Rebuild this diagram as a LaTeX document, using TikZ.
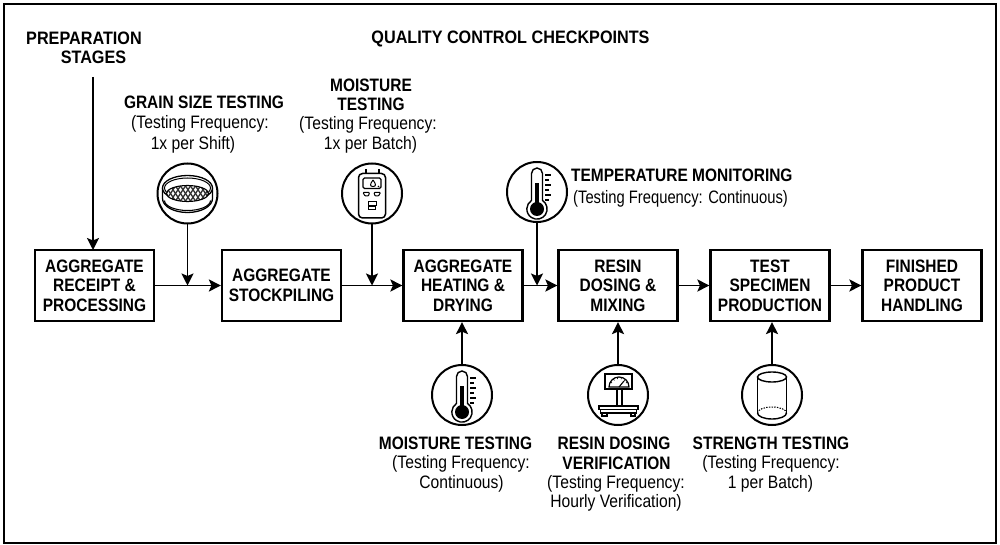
\documentclass[tikz,border=0pt]{standalone}
\usepackage{fontspec}
\setmainfont[UprightFeatures={FakeStretch=0.87},BoldFeatures={FakeStretch=0.86}]{Liberation Sans}
\newfontfamily\headfam[FakeStretch=0.9]{Liberation Sans}
\newfontfamily\longfam[FakeStretch=0.82]{Liberation Sans}
\usetikzlibrary{arrows.meta}
\newcommand{\lblfont}{\fontsize{18}{19.5}\selectfont}
\newcommand{\boldfont}{\fontsize{18}{19.5}\selectfont\bfseries}
\tikzset{
  x=1pt,y=-1pt,
  stage/.style={draw=black,line width=2.2pt,minimum width=119pt,minimum height=71pt,inner sep=0pt,align=center,font=\boldfont},
  lbl/.style={inner sep=0pt,font=\lblfont},
  blbl/.style={inner sep=0pt,font=\boldfont},
  icon/.style={draw=black,line width=2pt,circle,minimum size=60pt,inner sep=0pt,fill=white},
  flow/.style={line width=1.9pt,-{Stealth[length=12pt,width=12pt,inset=2.5pt]}},
  thermo/.pic={
    \draw[line width=1.4pt,fill=white] (-5.5,-18.5) arc[start angle=180,end angle=360,radius=5.5] -- (5.5,8.5) arc[start angle=-57,end angle=237,radius=10.14] -- cycle;
    \fill[black] (-2.2,-9) rectangle (2.2,12);
    \fill[black] (0,17) circle (7);
    \foreach \yy/\ll in {-17/6,-12/4,-7/6,-2/4,3/6,8/4}
      \draw[line width=1.2pt] (8,\yy) -- ++(\ll,0);
  },
}
\begin{document}
\begin{tikzpicture}
\useasboundingbox (0,0) rectangle (1000,545);
\fill[white] (0,0) rectangle (1000,545);
\draw[line width=1.3pt] (4,4) rectangle (996,543);

% stages
\node[stage] (s1) at (94.5,285.5) {AGGREGATE\\RECEIPT \&\\PROCESSING};
\node[stage] (s2) at (281.5,285.5) {AGGREGATE\\STOCKPILING};
\node[stage] (s3) at (463,285.5) {AGGREGATE\\HEATING \&\\DRYING};
\node[stage] (s4) at (618,285.5) {RESIN\\DOSING \&\\MIXING};
\node[stage] (s5) at (770,285.5) {TEST\\SPECIMEN\\PRODUCTION};
\node[stage] (s6) at (922,285.5) {FINISHED\\PRODUCT\\HANDLING};

\draw[flow] (s1) -- (s2);
\draw[flow] (s2) -- (s3);
\draw[flow] (s3) -- (s4);
\draw[flow] (s4) -- (s5);
\draw[flow] (s5) -- (s6);

% headings
\node[blbl,font=\fontsize{18}{19.5}\selectfont\headfam\bfseries] (prepa) at (84,38) {PREPARATION};
\node[blbl,font=\fontsize{18}{19.5}\selectfont\headfam\bfseries] (prepb) at (93.5,57.5) {STAGES};
\node[blbl,font=\fontsize{18}{19.5}\selectfont\headfam\bfseries] (qc) at (510.5,38.5) {QUALITY CONTROL CHECKPOINTS};
\coordinate (prepin) at (93,250);
\coordinate (prepout) at (93,77);
\draw[flow] (prepout) -- (prepin);

% icons
\node[icon] (sieve) at (187.5,193.5) {};
\node[icon] (meter) at (372,193.5) {};
\node[icon] (therm) at (537,192) {};
\node[icon] (therb) at (462,395) {};
\node[icon] (scale) at (618,395) {};
\node[icon] (cyl) at (772,395) {};

% connectors from icons
\coordinate (j1) at (187.5,285.5);
\coordinate (j2) at (372,285.5);
\coordinate (j3) at (537,285.5);
\draw[flow] (sieve) -- (j1);
\draw[flow] (meter) -- (j2);
\draw[flow] (therm) -- (j3);
\draw[flow] (therb) -- (s3.south -| therb);
\draw[flow] (scale) -- (s4);
\draw[flow] (cyl) -- (s5.south -| cyl);

% sieve
\begin{scope}[shift={(187.5,193.5)}]
  \draw[line width=1.3pt] (-25,-5) -- (-25,5) arc[start angle=180,end angle=360,x radius=25,y radius=-14] -- (25,-5);
  \draw[line width=1.1pt] (-23,7) arc[start angle=180,end angle=360,x radius=23,y radius=-10];
  \draw[line width=1.3pt,fill=white] (0,-5.5) ellipse [x radius=25,y radius=12.5];
  \draw[line width=1pt] (0,-5.5) ellipse [x radius=23,y radius=10];
  \begin{scope}
    \clip (0,0) ellipse [x radius=21,y radius=8];
    \fill[white] (-22,-9) rectangle (22,9);
    \foreach \k in {-42,-37,...,42}{
      \draw[line width=1.3pt,black!80] (\k-6,-9) -- (\k+6,9);
      \draw[line width=1.3pt,black!80] (\k+6,-9) -- (\k-6,9);
    }
  \end{scope}
  \draw[line width=1.1pt] (0,0) ellipse [x radius=21,y radius=8];
\end{scope}

% moisture meter
\begin{scope}[shift={(372,193.5)}]
  \draw[line width=1.1pt] (-6,-20) -- (-6,-24.5) (7,-20) -- (7,-24.5);
  \draw[line width=1.5pt,rounded corners=4pt] (-13.5,-20) rectangle (13.5,24.5);
  \draw[line width=1.2pt,rounded corners=1.5pt] (-9,-15.5) rectangle (9,-5);
  \draw[line width=1pt] (1,-13.5) .. controls (-2.5,-9) and (-2,-7) .. (1,-7) .. controls (4,-7) and (4.5,-9) .. (1,-13.5);
  \fill (6.5,-7) circle (.9);
  \draw[line width=1pt,rounded corners=.8pt] (-9,-1) -- (-2.5,-1) -- (-3.5,2.5) -- (-7,2.5) -- cycle;
  \draw[line width=1pt,rounded corners=.8pt] (8.5,-1) -- (2,-1) -- (3,2.5) -- (6.5,2.5) -- cycle;
  \draw[line width=.8pt] (-4,8) rectangle (4,11.5) (-3.5,12.5) rectangle (3.5,15.5);
\end{scope}

% thermometers
\pic at (537,192) {thermo};
\pic at (462,395) {thermo};

% scale
\begin{scope}[shift={(618,395)}]
  \draw[line width=1.3pt] (-1,-6) rectangle (4,11);
  \draw[line width=1.4pt,fill=white] (-13,-21) rectangle (14,-6);
  \draw[line width=1.2pt,fill=white] (-9,-8) arc[start angle=180,end angle=360,radius=10] -- cycle;
  \draw[line width=1.1pt] (1,-8) -- (6,-14);
  \foreach \a in {150,125,100,75,50,30}
    \draw[line width=.6pt] (1,-8) ++(-\a:8) -- ++(-\a:2);
  \draw[line width=1.5pt,fill=white] (-19,11) rectangle (20,14.5);
  \draw[line width=1.5pt,fill=white] (-17.5,14.5) rectangle (18.5,18);
  \draw[line width=1.1pt,fill=white] (-16,18) rectangle (-11,21);
  \draw[line width=1.1pt,fill=white] (13,18) rectangle (17,21);
\end{scope}

% cylinder
\begin{scope}[shift={(772,395)}]
  \draw[line width=1.4pt] (-14.5,-18) -- (-14.5,18);
  \draw[line width=1.4pt] (14.5,-18) -- (14.5,18);
  \draw[line width=1.4pt] (0,-18) ellipse [x radius=14.5,y radius=5];
  \draw[line width=1.4pt] (-14.5,18) arc[start angle=180,end angle=360,x radius=14.5,y radius=-6];
  \draw[line width=1pt,dash pattern=on 1.5pt off 1.2pt] (-14.5,18) arc[start angle=180,end angle=0,x radius=14.5,y radius=-6];
\end{scope}

% labels
\node[blbl] (l1a) at (204,102.5) {GRAIN SIZE TESTING};
\node[lbl] (l1b) at (200,124) {(Testing Frequency:};
\node[lbl] (l1c) at (193,144.5) {1x per Shift)};
\node[blbl] (l2a) at (371,85) {MOISTURE};
\node[blbl] (l2b) at (371,104.5) {TESTING};
\node[lbl] (l2c) at (368,125) {(Testing Frequency:};
\node[lbl] (l2d) at (370.5,145) {1x per Batch)};
\node[blbl,anchor=west] (l3a) at (571,175.5) {TEMPERATURE MONITORING};
\node[lbl,anchor=west,font=\lblfont\longfam] (l3b) at (573,199) {(Testing Frequency: Continuous)};
\node[blbl] (l4a) at (455.5,443.5) {MOISTURE TESTING};
\node[lbl] (l4b) at (461,464) {(Testing Frequency:};
\node[lbl] (l4c) at (461.5,483.5) {Continuous)};
\node[blbl] (l5a) at (614,443.5) {RESIN DOSING};
\node[blbl] (l5b) at (616.5,463) {VERIFICATION};
\node[lbl] (l5c) at (616,483.5) {(Testing Frequency:};
\node[lbl] (l5d) at (616,502.5) {Hourly Verification)};
\node[blbl] (l6a) at (771,443.5) {STRENGTH TESTING};
\node[lbl] (l6b) at (771,464) {(Testing Frequency:};
\node[lbl] (l6c) at (770.5,483.5) {1 per Batch)};
\end{tikzpicture}
\end{document}
